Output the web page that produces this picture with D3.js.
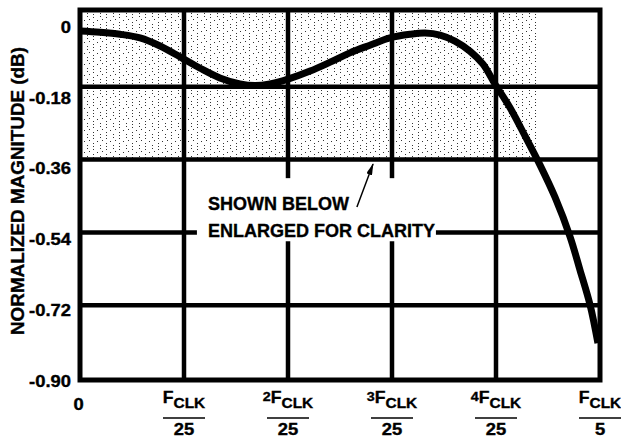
<!DOCTYPE html>
<html>
<head>
<meta charset="utf-8">
<script src="https://cdn.jsdelivr.net/npm/d3@7"></script>
<style>
  html, body { margin: 0; padding: 0; background: #fff; }
  svg { display: block; }
  text { font-family: "Liberation Sans", Arial, Helvetica, sans-serif; font-weight: bold; fill: #000;
         stroke: #000; stroke-width: 0.35px; }
</style>
</head>
<body>
<script>
'use strict';

// frequency as a fraction of FCLK
var freq = [0, 0.0077, 0.0154, 0.0231, 0.0308, 0.0385, 0.0462, 0.0538, 0.0615, 0.0673,
            0.0731, 0.08, 0.0885, 0.0962, 0.1038, 0.1115, 0.1192, 0.1269, 0.1327, 0.1385,
            0.1442, 0.15, 0.155, 0.1596, 0.1654, 0.1712, 0.1769, 0.1827, 0.1885, 0.1923,
            0.1962, 0.1992];
// normalized magnitude, dB
var magDb = [-0.042, -0.045, -0.050, -0.059, -0.079, -0.106, -0.134, -0.158, -0.173, -0.177,
             -0.173, -0.161, -0.141, -0.119, -0.096, -0.077, -0.059, -0.050, -0.047, -0.052,
             -0.067, -0.092, -0.124, -0.173, -0.232, -0.302, -0.373, -0.453, -0.551, -0.633,
             -0.720, -0.814];

var yTicks = [0, -0.18, -0.36, -0.54, -0.72, -0.90];
var yTickLabels = ["0", "-0.18", "-0.36", "-0.54", "-0.72", "-0.90"];

var xTicks = [0, 0.04, 0.08, 0.12, 0.16, 0.2];
var xTickMult = [null, "", "2", "3", "4", ""];   // null -> plain "0"
var xTickDen = [null, "25", "25", "25", "25", "5"];

var yTitle = "NORMALIZED MAGNITUDE (dB)";
var noteLines = ["SHOWN BELOW", "ENLARGED FOR CLARITY"];

// stippled band that the note refers to
var shadeFreq = [0, 0.176];
var shadeDb = -0.36;

(function() {

    var width = 621,
        height = 439;

    var x = d3.scaleLinear().domain([0, 0.2]).range([80, 600]);
    var y = d3.scaleLinear().domain([-0.905, 0.01]).range([380, 10]);
    // the tick labels sit a bit below their gridlines in the original
    var yLab = d3.scaleLinear().domain([-0.9, 0]).range([381.5, 27]);

    var svg = d3.select("body")
        .append("svg")
        .attr("width", width)
        .attr("height", height);

    svg.append("rect").attr("width", width).attr("height", height).attr("fill", "#fff");

    var defs = svg.append("defs");

    // sparse dots, like the halftone of the scan
    var pat = defs.append("pattern")
        .attr("id", "stipple")
        .attr("patternUnits", "userSpaceOnUse")
        .attr("width", 13)
        .attr("height", 11);
    [[2, 0], [2, 3], [2, 6], [6, 9], [9, 2], [9, 5], [11, 8]].forEach(function(p) {
        pat.append("rect").attr("x", p[0]).attr("y", p[1])
            .attr("width", 1).attr("height", 1).attr("fill", "#333");
    });

    defs.append("marker")
        .attr("id", "arrow")
        .attr("viewBox", "0 0 12 6")
        .attr("refX", 11)
        .attr("refY", 3)
        .attr("markerWidth", 12)
        .attr("markerHeight", 6)
        .attr("markerUnits", "userSpaceOnUse")
        .attr("orient", "auto")
        .append("path")
        .attr("d", "M0,0L12,3L0,6Z")
        .attr("fill", "#000");

    var top = y.range()[1],
        bottom = y.range()[0],
        left = x.range()[0],
        right = x.range()[1];

    // stippled area
    svg.append("rect")
        .attr("x", x(shadeFreq[0]))
        .attr("y", top)
        .attr("width", x(shadeFreq[1]) - x(shadeFreq[0]))
        .attr("height", y(shadeDb) - top)
        .attr("fill", "url(#stipple)");

    // gridlines
    var grid = svg.append("g").attr("id", "grid")
        .attr("stroke", "#000")
        .attr("stroke-width", 4.5);

    grid.selectAll("line.v")
        .data(xTicks.slice(1, -1))
        .enter()
        .append("line")
        .attr("class", "v")
        .attr("x1", function(d) { return x(d); })
        .attr("x2", function(d) { return x(d); })
        .attr("y1", top)
        .attr("y2", bottom);

    grid.selectAll("line.h")
        .data(yTicks.slice(1, -1))
        .enter()
        .append("line")
        .attr("class", "h")
        .attr("x1", left)
        .attr("x2", right)
        .attr("y1", function(d) { return y(d); })
        .attr("y2", function(d) { return y(d); });

    var maskLayer = svg.append("g");

    // frame
    svg.append("rect")
        .attr("x", left)
        .attr("y", top)
        .attr("width", right - left)
        .attr("height", bottom - top)
        .attr("fill", "none")
        .attr("stroke", "#000")
        .attr("stroke-width", 5);

    // response curve
    var line = d3.line()
        .x(function(d, i) { return x(freq[i]); })
        .y(function(d) { return y(d); })
        .curve(d3.curveCatmullRom);

    svg.append("path")
        .datum(magDb)
        .attr("d", line)
        .attr("fill", "none")
        .attr("stroke", "#000")
        .attr("stroke-width", 7);

    // note + arrow
    var note = svg.append("g").attr("id", "note");
    var noteText = note.append("g");
    noteText.selectAll("text")
        .data(noteLines)
        .enter()
        .append("text")
        .attr("x", x(0.0492))
        .attr("y", function(d, i) { return y([-0.485, -0.552][i]); })
        .attr("font-size", 18)
        .text(function(d) { return d; });

    note.append("line")
        .attr("x1", x(0.1065)).attr("y1", y(-0.477))
        .attr("x2", x(0.1127)).attr("y2", y(-0.371))
        .attr("stroke", "#000")
        .attr("stroke-width", 1.5)
        .attr("marker-end", "url(#arrow)");

    // white box that breaks the gridlines behind the note
    var bb = noteText.node().getBBox();
    maskLayer.append("rect")
        .attr("x", bb.x - 11)
        .attr("y", bb.y - 16)
        .attr("width", bb.width + 12)
        .attr("height", bb.height + 16)
        .attr("fill", "#fff");

    // y tick labels
    var yAxis = d3.axisLeft(yLab)
        .tickValues(yTicks)
        .tickSize(0)
        .tickPadding(0)
        .tickFormat(function(d, i) { return yTickLabels[i]; });

    var yg = svg.append("g")
        .attr("transform", "translate(71,0)")
        .call(yAxis);
    yg.select(".domain").remove();
    yg.selectAll("text")
        .attr("x", 0)
        .attr("font-size", 16)
        .attr("font-family", null)
        .attr("transform", "scale(1.15,1)");

    // y title
    svg.append("text")
        .attr("transform", "translate(24," + 191 + ") rotate(-90)")
        .attr("text-anchor", "middle")
        .attr("font-size", 18)
        .attr("textLength", 288)
        .attr("lengthAdjust", "spacingAndGlyphs")
        .text(yTitle);

    // x tick labels (fractions of FCLK)
    var xl = svg.append("g").selectAll("g")
        .data(xTicks)
        .enter()
        .append("g")
        .attr("transform", function(d) { return "translate(" + x(d) + ",0)"; });

    xl.each(function(d, i) {
        var g = d3.select(this);
        if (xTickMult[i] === null) {
            g.append("text")
                .attr("text-anchor", "middle")
                .attr("transform", "translate(-1.5,410) scale(1.15,1)")
                .attr("font-size", 16)
                .text("0");
            return;
        }
        var num = g.append("text")
            .attr("text-anchor", "middle")
            .attr("transform", "translate(0,403) scale(1.1,1)");
        if (xTickMult[i]) {
            num.append("tspan").attr("font-size", 13).attr("dy", -2).text(xTickMult[i]);
        }
        num.append("tspan").attr("font-size", 16).attr("dy", xTickMult[i] ? 2 : 0).text("F");
        num.append("tspan").attr("font-size", 14).attr("dy", 5).text("CLK");

        g.append("line")
            .attr("x1", -21).attr("x2", 21)
            .attr("y1", 418).attr("y2", 418)
            .attr("stroke", "#000")
            .attr("stroke-width", 1.5);

        g.append("text")
            .attr("text-anchor", "middle")
            .attr("transform", "translate(0,435) scale(1.15,1)")
            .attr("font-size", 16)
            .text(xTickDen[i]);
    });
})();
</script>
</body>
</html>
